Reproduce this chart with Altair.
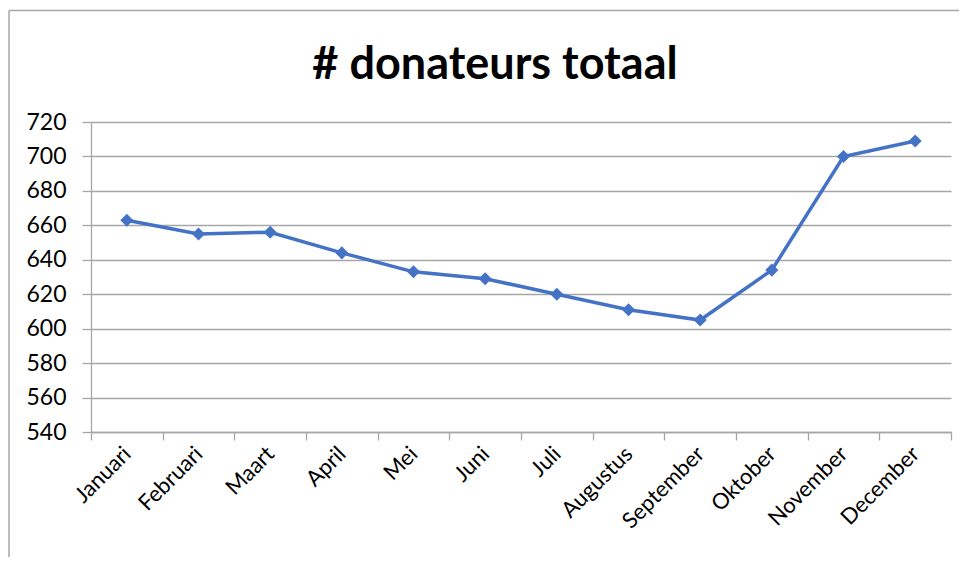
import altair as alt
import pandas as pd

months = ["Januari", "Februari", "Maart", "April", "Mei", "Juni", "Juli",
          "Augustus", "September", "Oktober", "November", "December"]
values = [663, 655, 656, 644, 633, 629, 620, 611, 605, 634, 700, 709]
y_ticks = [540, 560, 580, 600, 620, 640, 660, 680, 700, 720]
title_text = "# donateurs totaal"

df = pd.DataFrame({"idx": list(range(len(months))), "month": months, "value": values})

BLUE = "#4472C4"
GRID = "#a6a6a6"
FONT = "Lato"

label_expr = "[" + ",".join("'" + m + "'" for m in months) + "][datum.value]"
boundaries = [i - 0.5 for i in range(len(months) + 1)]

xscale = alt.Scale(domain=[-0.5, len(months) - 0.5], nice=False, zero=False)
yscale = alt.Scale(domain=[540, 720], nice=False, zero=False)

yaxis = alt.Axis(values=y_ticks, title=None, grid=True, gridColor=GRID, gridWidth=1.3,
                 domain=True, domainColor=GRID, domainWidth=1.3,
                 ticks=True, tickColor=GRID, tickSize=9, tickWidth=1.3,
                 labelFont=FONT, labelFontSize=23, labelColor="#000000", labelPadding=16)

x_label_axis = alt.Axis(values=list(range(len(months))), labelExpr=label_expr, title=None,
                        grid=False, domain=False, ticks=False, labelAngle=-45,
                        labelAlign="right", labelBaseline="middle", labelFont=FONT,
                        labelFontSize=22, labelColor="#000000", labelPadding=18,
                        orient="bottom", labelOverlap=False)
x_tick_axis = alt.Axis(values=boundaries, labels=False, title=None, grid=False,
                       domain=True, domainColor=GRID, domainWidth=1.3,
                       ticks=True, tickColor=GRID, tickSize=8, tickWidth=1.3,
                       orient="bottom")

base = alt.Chart(df)

line = base.mark_line(color=BLUE, strokeWidth=3.5).encode(
    x=alt.X("idx:Q", scale=xscale, axis=x_label_axis),
    y=alt.Y("value:Q", scale=yscale, axis=yaxis),
)
points = base.mark_point(shape="diamond", filled=True, size=170, color=BLUE, opacity=1).encode(
    x=alt.X("idx:Q", scale=xscale, axis=x_tick_axis),
    y=alt.Y("value:Q", scale=yscale, axis=yaxis),
)

title = alt.Chart(pd.DataFrame({"t": [title_text]})).mark_text(
    font=FONT, fontSize=45, fontWeight="bold", color="#000000", align="center",
    baseline="alphabetic"
).encode(text="t:N", x=alt.value(404), y=alt.value(-43))

border_left = alt.Chart(pd.DataFrame({"a": [0]})).mark_rule(color=GRID, strokeWidth=1.5).encode(
    x=alt.value(-82), y=alt.value(-111.5), y2=alt.value(450)
)
border_top = alt.Chart(pd.DataFrame({"a": [0]})).mark_rule(color=GRID, strokeWidth=1.5).encode(
    x=alt.value(-82), x2=alt.value(876), y=alt.value(-111.5)
)

chart = alt.layer(line, points, title, border_left, border_top).resolve_axis(
    x="independent"
).properties(
    width=860, height=310,
    autosize=alt.AutoSizeParams(type="none"),
    padding={"left": 83, "top": 114, "right": 8, "bottom": 125},
).configure_view(stroke=None)

chart.save("out.html", embed_options={"renderer": "svg", "actions": False})
